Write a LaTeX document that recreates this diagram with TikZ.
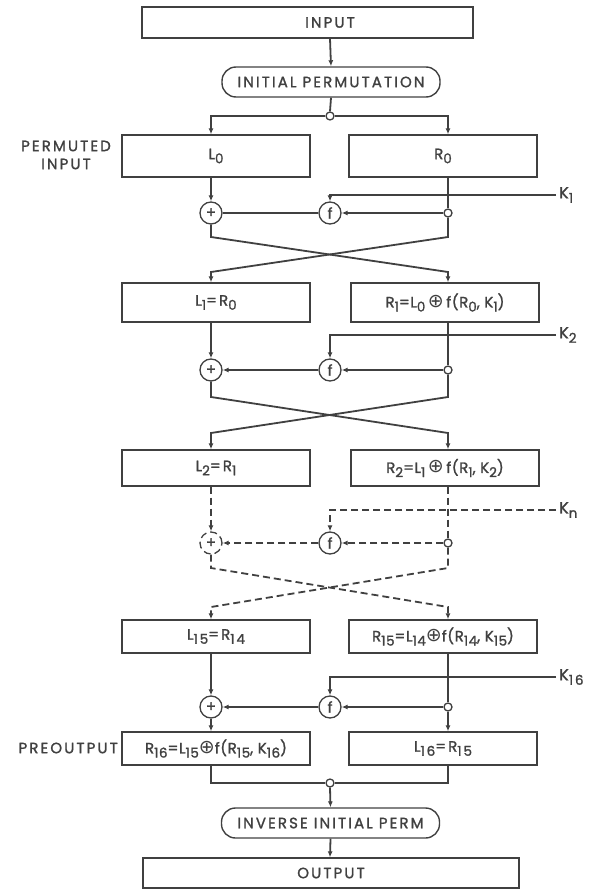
\documentclass[tikz,border=0pt]{standalone}
\usepackage{fontspec}
\setmainfont{Poppins}[LetterSpace=14, FakeBold=1.4]
\newfontfamily\symfont{DejaVu Sans}
\usepackage{tikz}
\usetikzlibrary{arrows.meta,positioning,calc}
\definecolor{desgray}{HTML}{404040}
\newcommand{\sbs}[1]{\raisebox{-0.5ex}{\fontsize{13.5}{13.5}\selectfont #1}}
\newcommand{\xo}{\,{\symfont\fontsize{19}{19}\selectfont ⊕}\,}
\newcommand{\xot}{{\symfont\fontsize{19}{19}\selectfont ⊕}}

\begin{document}
\begin{tikzpicture}[x=1pt, y=-1pt, font=\fontsize{15}{18}\selectfont, color=desgray,
  box/.style={rectangle, draw=desgray, line width=1.4pt, minimum width=188pt, minimum height=36pt, inner sep=2pt},
  capsule/.style={rectangle, rounded corners=14pt, draw=desgray, line width=1.4pt, minimum width=218pt, minimum height=30pt},
  op/.style={circle, draw=desgray, line width=1.3pt, minimum size=22pt, inner sep=0pt},
  dot/.style={circle, draw=desgray, fill=white, line width=1.3pt, minimum size=8pt, inner sep=0pt},
  lab/.style={align=center, inner sep=0pt},
  tight/.style={inner sep=1pt, font=\fontsize{15}{18}\selectfont\addfontfeature{LetterSpace=4}},
  key/.style={anchor=west, inner sep=3pt, font=\fontsize{16}{18}\selectfont},
  wire/.style={line width=1.8pt, draw=desgray},
  arr/.style={wire, -{Latex[length=6pt,width=5pt]}},
  dsh/.style={dash pattern=on 7pt off 4pt}]
\useasboundingbox (0,0) rectangle (598,896);
\coordinate (colL) at (211,0);
\coordinate (colC) at (330,0);
\coordinate (colR) at (448,0);

% input and initial permutation
\node[box, minimum width=331pt, minimum height=31pt] (inbox) at (307.5,22.5) {};
\node[lab] (inp) at (330,22.5) {INPUT};
\node[capsule] (ip) at (331,82) {INITIAL PERMUTATION};
\node[dot] (split) at (330,116) {};
\node[box, minimum height=42pt] (L0) at (216,156) {L\sbs{0}};
\node[box, minimum height=42pt] (R0) at (443,156) {R\sbs{0}};
\node[lab] (perm) at (66,155) {PERMUTED\\INPUT};
\draw[arr] (colC |- inbox.south) -- (ip.north);
\draw[wire] (ip.south) -- (split.north);
\draw[arr] (split.west) -| (colL |- L0.north);
\draw[arr] (split.east) -| (colR |- R0.north);

% round 1
\node[op] (p1) at (211,213) {+};
\node[op] (f1) at (330,213) {f};
\node[dot] (j1) at (448,213) {};
\node[key] (k1) at (556,195) {K\sbs{1}};
\coordinate (x1t) at (330,237);
\coordinate (x1b) at (330,272);
\node[box, minimum height=39pt] (L1) at (216,302.5) {L\sbs{1}=R\sbs{0}};
\node[box, minimum height=39pt, tight] (R1) at (445,302.5) {R\sbs{1}=L\sbs{0}\xo f(R\sbs{0}, K\sbs{1})};
\draw[arr] (colL |- L0.south) -- (p1.north);
\draw[wire] (colR |- R0.south) -- (j1.north);
\draw[arr] (j1.west) -- (f1.east);
\draw[wire] (f1.west) -- (p1.east);
\draw[arr] (k1.west) -| (f1.north);
\draw[arr] (p1.south) -- (colL |- x1t) -- (colR |- x1b) -- (colR |- R1.north);
\draw[arr] (j1.south) -- (colR |- x1t) -- (colL |- x1b) -- (colL |- L1.north);

% round 2
\node[op] (p2) at (211,370) {+};
\node[op] (f2) at (330,370) {f};
\node[dot] (j2) at (448,370) {};
\node[key] (k2) at (556,335) {K\sbs{2}};
\coordinate (x2t) at (330,397);
\coordinate (x2b) at (330,433);
\node[box] (L2) at (216,468) {L\sbs{2}=R\sbs{1}};
\node[box, tight] (R2) at (445,468) {R\sbs{2}=L\sbs{1}\xo f(R\sbs{1}, K\sbs{2})};
\draw[arr] (colL |- L1.south) -- (p2.north);
\draw[wire] (colR |- R1.south) -- (j2.north);
\draw[arr] (j2.west) -- (f2.east);
\draw[arr] (f2.west) -- (p2.east);
\draw[arr] (k2.west) -| (f2.north);
\draw[arr] (p2.south) -- (colL |- x2t) -- (colR |- x2b) -- (colR |- R2.north);
\draw[arr] (j2.south) -- (colR |- x2t) -- (colL |- x2b) -- (colL |- L2.north);

% rounds 3 .. 15 (dashed)
\node[op, dsh] (pn) at (211,543) {+};
\node[op] (fn) at (330,543) {f};
\node[dot] (jn) at (448,543) {};
\node[key] (kn) at (556,510) {K\sbs{n}};
\coordinate (xnt) at (330,568);
\coordinate (xnb) at (330,607);
\node[box, minimum height=33pt] (L15) at (216,636.5) {L\sbs{15}=R\sbs{14}};
\node[box, minimum height=33pt, tight] (R15) at (443,636.5) {R\sbs{15}=L\sbs{14}\xot f(R\sbs{14}, K\sbs{15})};
\draw[arr, dsh] (colL |- L2.south) -- (pn.north);
\draw[wire, dsh] (colR |- R2.south) -- (jn.north);
\draw[arr, dsh] (jn.west) -- (fn.east);
\draw[arr, dsh] (fn.west) -- (pn.east);
\draw[arr, dsh] (kn.west) -| (fn.north);
\draw[arr, dsh] (pn.south) -- (colL |- xnt) -- (colR |- xnb) -- (colR |- R15.north);
\draw[arr, dsh] (jn.south) -- (colR |- xnt) -- (colL |- xnb) -- (colL |- L15.north);

% round 16
\node[op] (p16) at (211,707) {+};
\node[op] (f16) at (330,707) {f};
\node[dot] (j16) at (448,707) {};
\node[key] (k16) at (556,677) {K\sbs{16}};
\node[box, minimum height=33pt, tight] (R16) at (216,748.5) {R\sbs{16}=L\sbs{15}\xot f(R\sbs{15}, K\sbs{16})};
\node[box, minimum height=33pt] (L16) at (443,748.5) {L\sbs{16}=R\sbs{15}};
\node[lab, anchor=east] (pre) at (118,748) {PREOUTPUT};
\draw[arr] (colL |- L15.south) -- (p16.north);
\draw[wire] (colR |- R15.south) -- (j16.north);
\draw[arr] (j16.west) -- (f16.east);
\draw[arr] (f16.west) -- (p16.east);
\draw[arr] (k16.west) -| (f16.north);
\draw[arr] (p16.south) -- (colL |- R16.north);
\draw[arr] (j16.south) -- (colR |- L16.north);

% output
\node[dot] (merge) at (330,783) {};
\node[capsule] (inv) at (330.5,823) {INVERSE INITIAL PERM};
\node[box, minimum width=376pt, minimum height=30pt] (out) at (331,873) {OUTPUT};
\draw[wire] (colL |- R16.south) |- (merge.west);
\draw[wire] (colR |- L16.south) |- (merge.east);
\draw[arr] (merge.south) -- (inv.north);
\draw[arr] (inv.south) -- (colC |- out.north);
\end{tikzpicture}
\end{document}
